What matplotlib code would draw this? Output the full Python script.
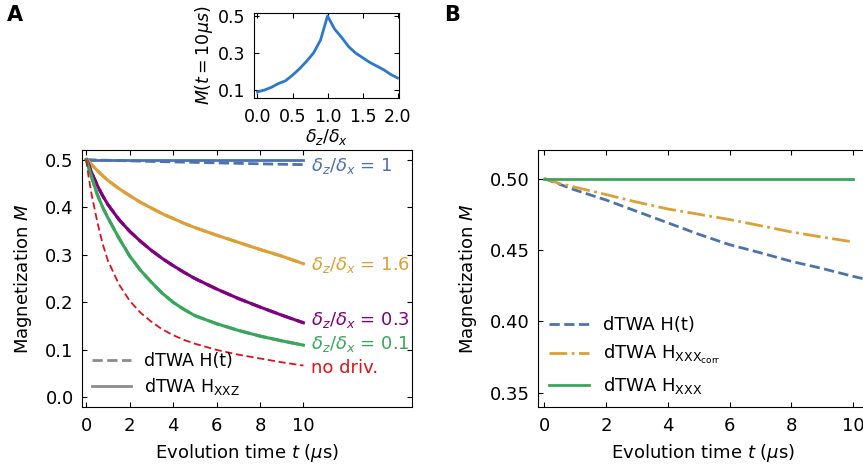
import matplotlib
matplotlib.use('Agg')
import matplotlib.pyplot as plt

# Inset: M(t = 10 us) versus drive ratio
ratio = [0.0, 0.1, 0.2, 0.3, 0.4, 0.5, 0.6, 0.7, 0.8, 0.9, 1.0,
         1.1, 1.2, 1.3, 1.4, 1.5, 1.6, 1.7, 1.8, 1.9, 2.0]
m_final = [0.09, 0.10, 0.115, 0.135, 0.15, 0.18, 0.215, 0.255, 0.30, 0.37, 0.50,
           0.43, 0.385, 0.335, 0.30, 0.275, 0.25, 0.23, 0.21, 0.185, 0.165]

# Panel A: magnetization versus time
t_a = [0, 0.1, 0.25, 0.5, 0.75, 1, 1.5, 2, 2.5, 3, 3.5, 4, 4.5, 5, 6, 7, 8, 9, 10]
m_d1_xxz = [0.5] * 19
m_d1_ht = [0.5, 0.4997, 0.4994, 0.499, 0.4987, 0.4984, 0.4978, 0.4972, 0.4966, 0.496,
           0.4955, 0.495, 0.4945, 0.494, 0.493, 0.492, 0.491, 0.490, 0.4893]
m_d16 = [0.5, 0.496, 0.489, 0.477, 0.466, 0.456, 0.439, 0.424, 0.410, 0.398,
         0.386, 0.376, 0.366, 0.357, 0.341, 0.326, 0.311, 0.297, 0.281]
m_d03 = [0.5, 0.49, 0.472, 0.446, 0.424, 0.405, 0.374, 0.349, 0.328, 0.309,
         0.292, 0.277, 0.263, 0.250, 0.228, 0.208, 0.190, 0.173, 0.157]
m_d01 = [0.5, 0.484, 0.462, 0.427, 0.40, 0.377, 0.335, 0.297, 0.267, 0.242,
         0.219, 0.20, 0.185, 0.172, 0.155, 0.141, 0.129, 0.119, 0.110]
m_nodriv = [0.5, 0.465, 0.425, 0.37, 0.323, 0.287, 0.238, 0.203, 0.178, 0.159,
            0.143, 0.131, 0.121, 0.113, 0.100, 0.090, 0.082, 0.074, 0.067]

# Panel B
t_b = [0, 0.5, 1, 2, 3, 4, 5, 6, 7, 8, 9, 10, 10.5]
m_b_ht = [0.5, 0.496, 0.492, 0.485, 0.477, 0.469, 0.461, 0.4537, 0.448, 0.442, 0.437, 0.4315, 0.429]
t_b2 = [0, 0.5, 1, 2, 3, 4, 5, 6, 7, 8, 9, 10]
m_b_corr = [0.5, 0.4965, 0.494, 0.4888, 0.4835, 0.4787, 0.475, 0.4713, 0.467, 0.4626, 0.459, 0.4556]
m_b_xxx = [0.5] * 12

blue = '#4c72b0'
orange = '#dd9f36'
purple = '#800080'
green = '#3aa65c'
red = '#e3101a'

plt.rcParams['font.size'] = 13
plt.rcParams['xtick.direction'] = 'in'
plt.rcParams['ytick.direction'] = 'in'
plt.rcParams['xtick.top'] = True
plt.rcParams['ytick.right'] = True
plt.rcParams['xtick.major.pad'] = 7
plt.rcParams['ytick.major.pad'] = 6

fig = plt.figure(figsize=(8.63, 4.72), dpi=100)

# Panel A main axes
ax = fig.add_axes([0.095, 0.1377, 0.3824, 0.5445])
ax.plot(t_a, m_d1_xxz, color=blue, lw=2)
ax.plot(t_a, m_d1_ht, color=blue, lw=2, ls='--')
for m, c in [(m_d16, orange), (m_d03, purple), (m_d01, green)]:
    ax.plot(t_a, m, color=c, lw=2.2)
    ax.plot(t_a, m, color=c, lw=2.2, ls='--')
ax.plot(t_a, m_nodriv, color=red, lw=1.3, ls='--', dashes=(4, 2))

ax.text(10.35, 0.487, r'$\delta_z/\delta_x$ = 1', color=blue, fontsize=13, va='center')
ax.text(10.35, 0.279, r'$\delta_z/\delta_x$ = 1.6', color=orange, fontsize=13, va='center')
ax.text(10.35, 0.163, r'$\delta_z/\delta_x$ = 0.3', color=purple, fontsize=13, va='center')
ax.text(10.35, 0.113, r'$\delta_z/\delta_x$ = 0.1', color=green, fontsize=13, va='center')
ax.text(10.35, 0.063, 'no driv.', color=red, fontsize=13, va='center')

h1, = ax.plot([], [], color='#8c8c8c', lw=2, ls='--')
h2, = ax.plot([], [], color='#8c8c8c', lw=2)
ax.legend([h1, h2], ['dTWA H(t)', r'dTWA H$_{\mathrm{XXZ}}$'], loc='lower left',
          bbox_to_anchor=(0.0, 0.0), frameon=False, fontsize=12.5, handlelength=2.2,
          labelspacing=0.3, borderaxespad=0.2)

ax.set_xlim(-0.2, 15)
ax.set_ylim(-0.02, 0.52)
ax.set_xticks([0, 2, 4, 6, 8, 10])
ax.set_yticks([0.0, 0.1, 0.2, 0.3, 0.4, 0.5])
ax.set_xlabel(r'Evolution time $t$ ($\mu$s)', labelpad=5)
ax.set_ylabel(r'Magnetization $M$', labelpad=8)

# Inset
ins = fig.add_axes([0.2943, 0.7924, 0.168, 0.180])
ins.plot(ratio, m_final, color='#2a78d0', lw=2)
ins.set_xlim(-0.05, 2.02)
ins.set_ylim(0.057, 0.516)
ins.set_xticks([0.0, 0.5, 1.0, 1.5, 2.0])
ins.set_yticks([0.1, 0.3, 0.5])
ins.tick_params(labelsize=12.5)
ins.set_xlabel(r'$\delta_z/\delta_x$', fontsize=12.5, labelpad=1)
ins.set_ylabel(r'$M(t=10\mu s)$', fontsize=12.5, labelpad=2)

# Panel B
axb = fig.add_axes([0.6234, 0.1377, 0.3824, 0.5445])
axb.plot(t_b, m_b_ht, color=blue, lw=2, ls='--', label='dTWA H(t)')
axb.plot(t_b2, m_b_corr, color=orange, lw=2, ls='-.', label=r'dTWA H$_{\mathrm{XXX}_{\mathrm{corr}}}$')
axb.plot(t_b2, m_b_xxx, color=green, lw=2, label=r'dTWA H$_{\mathrm{XXX}}$')
axb.legend(loc='lower left', bbox_to_anchor=(0.0, 0.0), frameon=False, fontsize=13,
           handlelength=2.2, borderaxespad=0.2)
axb.set_xlim(-0.2, 10.48)
axb.set_ylim(0.34, 0.52)
axb.set_xticks([0, 2, 4, 6, 8, 10])
axb.set_yticks([0.35, 0.40, 0.45, 0.50])
axb.set_xlabel(r'Evolution time $t$ ($\mu$s)', labelpad=5)
axb.set_ylabel(r'Magnetization $M$', labelpad=8)

fig.text(0.008, 0.99, 'A', fontsize=15, fontweight='bold', va='top')
fig.text(0.515, 0.99, 'B', fontsize=15, fontweight='bold', va='top')

fig.savefig('out.png', dpi=100)
